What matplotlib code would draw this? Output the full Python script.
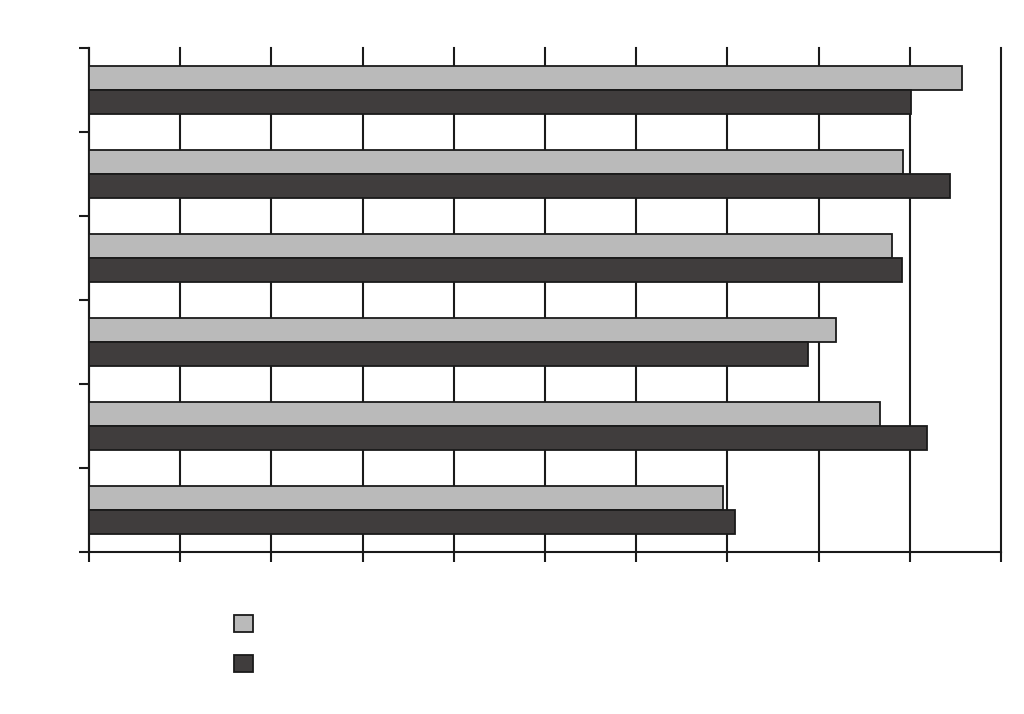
import numpy as np
import matplotlib.pyplot as plt
from matplotlib.patches import Patch

# Data (top to bottom); no labels are printed on the chart
categories = ["1", "2", "3", "4", "5", "6"]
series_light = [9.57, 8.93, 8.80, 8.19, 8.67, 6.95]
series_dark = [9.01, 9.44, 8.91, 7.88, 9.19, 7.08]

LIGHT = "#bababa"
DARK = "#403d3d"
BAR_H = 0.286

fig = plt.figure(figsize=(10.24, 7.14), dpi=100)
ax = fig.add_axes([89 / 1024, 1 - 552 / 714, (1001 - 89) / 1024, (552 - 48) / 714])

y = np.arange(len(categories))
ax.barh(y - BAR_H / 2, series_light, height=BAR_H, color=LIGHT,
        edgecolor="#1a1a1a", linewidth=1.3, zorder=3)
ax.barh(y + BAR_H / 2, series_dark, height=BAR_H, color=DARK,
        edgecolor="#1a1a1a", linewidth=1.3, zorder=3)

ax.set_xlim(0, 10)
ax.set_ylim(len(categories) - 0.5, -0.5)

# vertical gridlines at each major tick
ax.set_xticks(np.arange(0, 11))
ax.xaxis.grid(True, color="#1a1a1a", linewidth=1.5, zorder=1)
for gl in ax.get_xgridlines():
    gl.set_clip_on(False)
ax.set_axisbelow(True)

# category boundary ticks on the y axis
ax.set_yticks(np.arange(-0.5, len(categories) + 0.5, 1))
ax.tick_params(axis="both", direction="out", length=7, width=1.5,
               color="#1a1a1a", labelleft=False, labelbottom=False)

for side in ["top", "right"]:
    ax.spines[side].set_visible(False)
for side in ["left", "bottom"]:
    ax.spines[side].set_linewidth(1.5)
    ax.spines[side].set_color("#1a1a1a")

handles = [Patch(facecolor=LIGHT, edgecolor="#1a1a1a", linewidth=1.3),
           Patch(facecolor=DARK, edgecolor="#1a1a1a", linewidth=1.3)]
fig.legend(handles, ["", ""], loc="upper left",
           bbox_to_anchor=(234 / 1024, 1 - 615 / 714), frameon=False,
           fontsize=13.5, handlelength=1.0, handleheight=1.0,
           borderpad=0, borderaxespad=0, handletextpad=0.3, labelspacing=1.1)

fig.savefig("out.png", dpi=100)
